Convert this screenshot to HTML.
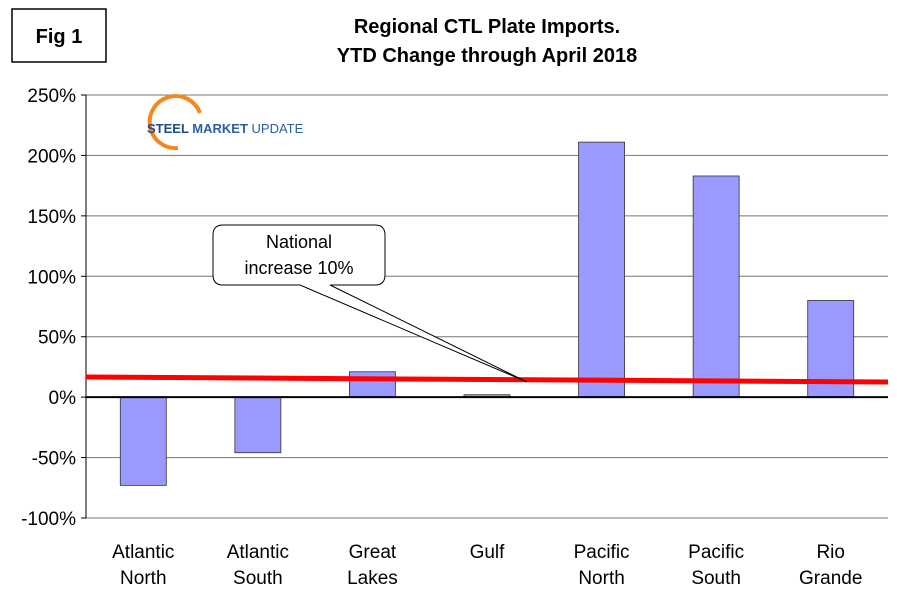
<!DOCTYPE html>
<html><head><meta charset="utf-8"><style>
body{margin:0;background:#fff;}
svg text{font-family:"Liberation Sans",Arial,sans-serif;}
</style></head><body>
<svg width="897" height="602" viewBox="0 0 897 602">
<rect x="0" y="0" width="897" height="602" fill="#fff"/>
<rect x="12" y="9" width="94" height="53" fill="#fff" stroke="#000" stroke-width="1.5"/>
<text x="59" y="43" font-size="20" font-weight="bold" text-anchor="middle">Fig 1</text>
<text x="487" y="33" font-size="20" font-weight="bold" text-anchor="middle">Regional CTL Plate Imports.</text>
<text x="487" y="62" font-size="20" font-weight="bold" text-anchor="middle">YTD Change through April 2018</text>
<g id="grid"></g>
<g id="yticks"></g>
<g id="bars"></g>
<g id="xlabels"></g>
<g>
<path d="M200,113 A26,26 0 1 0 178,148" fill="none" stroke="#f08a1c" stroke-width="4"/>
<text x="147" y="133" font-size="13" font-weight="bold" fill="#1e4b8f">STEEL <tspan fill="#2a5da8">MARKET</tspan> <tspan font-weight="normal" fill="#2a5da8">UPDATE</tspan></text>
</g>
<line id="natline" x1="86" y1="377" x2="888" y2="382" stroke="#ff0000" stroke-width="5"/>
<g>
<path d="M223,225 H375 Q385,225 385,235 V275 Q385,285 375,285 H330 L527,382 L300,285 H223 Q213,285 213,275 V235 Q213,225 223,225 Z" fill="#fff" stroke="#000" stroke-width="1"/>
<text x="299" y="248" font-size="18" text-anchor="middle">National</text>
<text x="299" y="274" font-size="18" text-anchor="middle">increase 10%</text>
</g>
<script>
const categories=[["Atlantic","North"],["Atlantic","South"],["Great","Lakes"],["Gulf",""],["Pacific","North"],["Pacific","South"],["Rio","Grande"]];
const values=[-73,-46,21,2,211,183,80];
const tickValues=[-100,-50,0,50,100,150,200,250];
const tickLabels=["-100%","-50%","0%","50%","100%","150%","200%","250%"];
const NS="http://www.w3.org/2000/svg";
const L=86,R=888,T=95,B=518;
function y(v){return T+(250-v)*(B-T)/350;}
const band=(R-L)/categories.length;
function xc(i){return L+band*(i+0.5);}
function mk(tag,attrs,parent){const e=document.createElementNS(NS,tag);for(const k in attrs)e.setAttribute(k,attrs[k]);document.getElementById(parent).appendChild(e);return e;}
tickValues.forEach((t,i)=>{
 if(t!==0){const g=mk('line',{x1:L,x2:R,y1:y(t),y2:y(t),stroke:'#777','stroke-width':1},'grid');
 
 }
 const tk=mk('line',{x1:L-5,x2:L,y1:y(t),y2:y(t),stroke:'#000'},'yticks');
 
 
 const tx=mk('text',{x:L-10,y:y(t)+7,'font-size':19,'text-anchor':'end'},'yticks');
 tx.textContent=tickLabels[i];
 
 
});
const ax=mk('line',{x1:L,x2:L,y1:T,y2:B,stroke:'#000','stroke-width':1},'grid');


const bw=46;
values.forEach((v,i)=>{
 const y0=y(0),yv=y(v);
 const b=mk('rect',{x:xc(i)-bw/2,y:Math.min(y0,yv),width:bw,height:Math.max(1,Math.abs(yv-y0)),fill:'#9999ff',stroke:'#333','stroke-width':0.8},'bars');
 
 
 const t1=mk('text',{x:xc(i),y:558,'font-size':19,'text-anchor':'middle'},'xlabels');
 t1.textContent=categories[i][0];
 
 
 if(categories[i][1]){const t2=mk('text',{x:xc(i),y:584,'font-size':19,'text-anchor':'middle'},'xlabels');
 t2.textContent=categories[i][1];
 
 }
});
const zl=mk('line',{x1:L,x2:R,y1:y(0),y2:y(0),stroke:'#000','stroke-width':2},'bars');


</script>
</svg>
</body></html>
